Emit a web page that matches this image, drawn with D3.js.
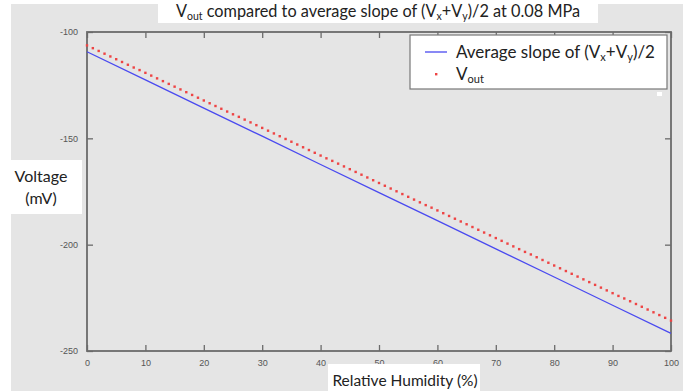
<!DOCTYPE html>
<html>
<head>
<meta charset="utf-8">
<script src="https://cdn.jsdelivr.net/npm/d3@7"></script>
<style>
  html, body { margin: 0; padding: 0; background: #fff; }
  svg { display: block; }
</style>
</head>
<body>
<svg id="chart" width="699" height="391"></svg>
<script>
// Relative humidity (%) sampled every 1 % for the measured output
const humidity = d3.range(0, 101);
const vOut = [
  -106.3, -107.6, -108.9, -110.2, -111.5, -112.8, -114.1, -115.4, -116.7, -117.9,
  -119.2, -120.5, -121.8, -123.1, -124.4, -125.7, -127.0, -128.3, -129.6, -130.9,
  -132.2, -133.5, -134.8, -136.1, -137.4, -138.7, -139.9, -141.2, -142.5, -143.8,
  -145.1, -146.4, -147.7, -149.0, -150.3, -151.6, -152.9, -154.2, -155.5, -156.8,
  -158.1, -159.4, -160.6, -161.9, -163.2, -164.5, -165.8, -167.1, -168.4, -169.7,
  -171.0, -172.3, -173.6, -174.9, -176.2, -177.5, -178.8, -180.1, -181.4, -182.6,
  -183.9, -185.2, -186.5, -187.8, -189.1, -190.4, -191.7, -193.0, -194.3, -195.6,
  -196.9, -198.2, -199.5, -200.8, -202.1, -203.4, -204.6, -205.9, -207.2, -208.5,
  -209.8, -211.1, -212.4, -213.7, -215.0, -216.3, -217.6, -218.9, -220.2, -221.5,
  -222.8, -224.1, -225.3, -226.6, -227.9, -229.2, -230.5, -231.8, -233.1, -234.4,
  -235.7
];
// Average slope of (Vx+Vy)/2, every 10 %
const slopeHumidity = [0, 10, 20, 30, 40, 50, 60, 70, 80, 90, 100];
const slopeAvg = [-109.3, -122.5, -135.8, -149.0, -162.3, -175.5, -188.7, -202.0, -215.2, -228.5, -241.7];

const xTicks = [0, 10, 20, 30, 40, 50, 60, 70, 80, 90, 100];
const yTicks = [-100, -150, -200, -250];

const svg = d3.select("#chart");
const plot = { left: 87, right: 671, top: 32, bottom: 351 };

const x = d3.scaleLinear().domain([0, 100]).range([plot.left, plot.right]);
const y = d3.scaleLinear().domain([-250, -100]).range([plot.bottom, plot.top]);

const uiFont = "Lato, 'Open Sans', sans-serif";
const tickFont = "'Liberation Sans', Arial, sans-serif";
const plain = d => String(d);

// grey figure background
svg.append("rect").attr("x", 11).attr("y", 4).attr("width", 672).attr("height", 387)
  .attr("fill", "#e5e5e5");

// axes (ticks inward on all four sides)
const axisColor = "#6b6b6b";
function styleAxis(g, showLabels) {
  g.select(".domain").remove();
  g.selectAll(".tick line").attr("stroke", axisColor).attr("stroke-width", 1.3);
  g.selectAll(".tick text").attr("fill", "#555").attr("font-family", tickFont)
    .attr("font-size", 9);
  if (!showLabels) g.selectAll(".tick text").remove();
}
svg.append("g").attr("transform", `translate(0,${plot.bottom})`)
  .call(d3.axisBottom(x).tickValues(xTicks).tickFormat(plain).tickSize(-6).tickPadding(9))
  .call(g => styleAxis(g, true));
svg.append("g").attr("transform", `translate(0,${plot.top})`)
  .call(d3.axisTop(x).tickValues(xTicks).tickSize(-6))
  .call(g => styleAxis(g, false));
svg.append("g").attr("transform", `translate(${plot.left},0)`)
  .call(d3.axisLeft(y).tickValues(yTicks).tickFormat(plain).tickSize(-6).tickPadding(9))
  .call(g => styleAxis(g, true));
svg.append("g").attr("transform", `translate(${plot.right},0)`)
  .call(d3.axisRight(y).tickValues(yTicks).tickSize(-6))
  .call(g => styleAxis(g, false));

// frame
svg.append("rect")
  .attr("x", plot.left).attr("y", plot.top)
  .attr("width", plot.right - plot.left).attr("height", plot.bottom - plot.top)
  .attr("fill", "none").attr("stroke", axisColor).attr("stroke-width", 1.8);

// blue line
svg.append("path")
  .datum(slopeHumidity.map((h, i) => [h, slopeAvg[i]]))
  .attr("d", d3.line().x(d => x(d[0])).y(d => y(d[1])))
  .attr("fill", "none").attr("stroke", "#4a4af0").attr("stroke-width", 1.3);

// red dots
svg.append("g").selectAll("rect")
  .data(humidity.map((h, i) => [h, vOut[i]]))
  .join("rect")
  .attr("x", d => x(d[0]) - 1.2).attr("y", d => y(d[1]) - 1.2)
  .attr("width", 2.4).attr("height", 2.4)
  .attr("fill", "#ee4444");

// legend
const lg = svg.append("g");
lg.append("rect").attr("x", 410).attr("y", 35).attr("width", 257).attr("height", 54)
  .attr("fill", "#fff").attr("stroke", "#777").attr("stroke-width", 1.2);
lg.append("line").attr("x1", 425).attr("x2", 447).attr("y1", 52).attr("y2", 52)
  .attr("stroke", "#4a4af0").attr("stroke-width", 1.3);
lg.append("rect").attr("x", 435).attr("y", 73).attr("width", 2.4).attr("height", 2.4)
  .attr("fill", "#ee4444");
const t1 = lg.append("text").attr("x", 456).attr("y", 58)
  .attr("font-family", uiFont).attr("font-size", 17).attr("fill", "#222");
t1.append("tspan").text("Average slope of (V");
t1.append("tspan").attr("font-size", 11).attr("dy", 3).text("x");
t1.append("tspan").attr("dy", -3).text("+V");
t1.append("tspan").attr("font-size", 11).attr("dy", 3).text("y");
t1.append("tspan").attr("dy", -3).text(")/2");
const t2 = lg.append("text").attr("x", 456).attr("y", 80)
  .attr("font-family", uiFont).attr("font-size", 17).attr("fill", "#222");
t2.append("tspan").text("V");
t2.append("tspan").attr("font-size", 11).attr("dy", 3).text("out");
svg.append("rect").attr("x", 657).attr("y", 92).attr("width", 5).attr("height", 4).attr("fill", "#fff");

// title
svg.append("rect").attr("x", 158).attr("y", 0).attr("width", 440).attr("height", 23).attr("fill", "#fff");
const title = svg.append("text").attr("x", 378).attr("y", 17).attr("text-anchor", "middle")
  .attr("font-family", uiFont).attr("font-size", 16.3).attr("fill", "#222");
title.append("tspan").text("V");
title.append("tspan").attr("font-size", 10.5).attr("dy", 3).text("out");
title.append("tspan").attr("dy", -3).text(" compared to average slope of (V");
title.append("tspan").attr("font-size", 10.5).attr("dy", 3).text("x");
title.append("tspan").attr("dy", -3).text("+V");
title.append("tspan").attr("font-size", 10.5).attr("dy", 3).text("y");
title.append("tspan").attr("dy", -3).text(")/2 at 0.08 MPa");

// y label
svg.append("rect").attr("x", 0).attr("y", 160).attr("width", 82).attr("height", 54).attr("fill", "#fff");
svg.append("text").attr("x", 41).attr("y", 182).attr("text-anchor", "middle")
  .attr("font-family", uiFont).attr("font-size", 16).attr("fill", "#222").text("Voltage");
svg.append("text").attr("x", 41).attr("y", 204).attr("text-anchor", "middle")
  .attr("font-family", uiFont).attr("font-size", 16).attr("fill", "#222").text("(mV)");

// x label
svg.append("rect").attr("x", 328).attr("y", 364).attr("width", 152).attr("height", 27).attr("fill", "#fff");
svg.append("text").attr("x", 405).attr("y", 386).attr("text-anchor", "middle")
  .attr("font-family", uiFont).attr("font-size", 15.5).attr("fill", "#222").text("Relative Humidity (%)");
</script>
</body>
</html>
